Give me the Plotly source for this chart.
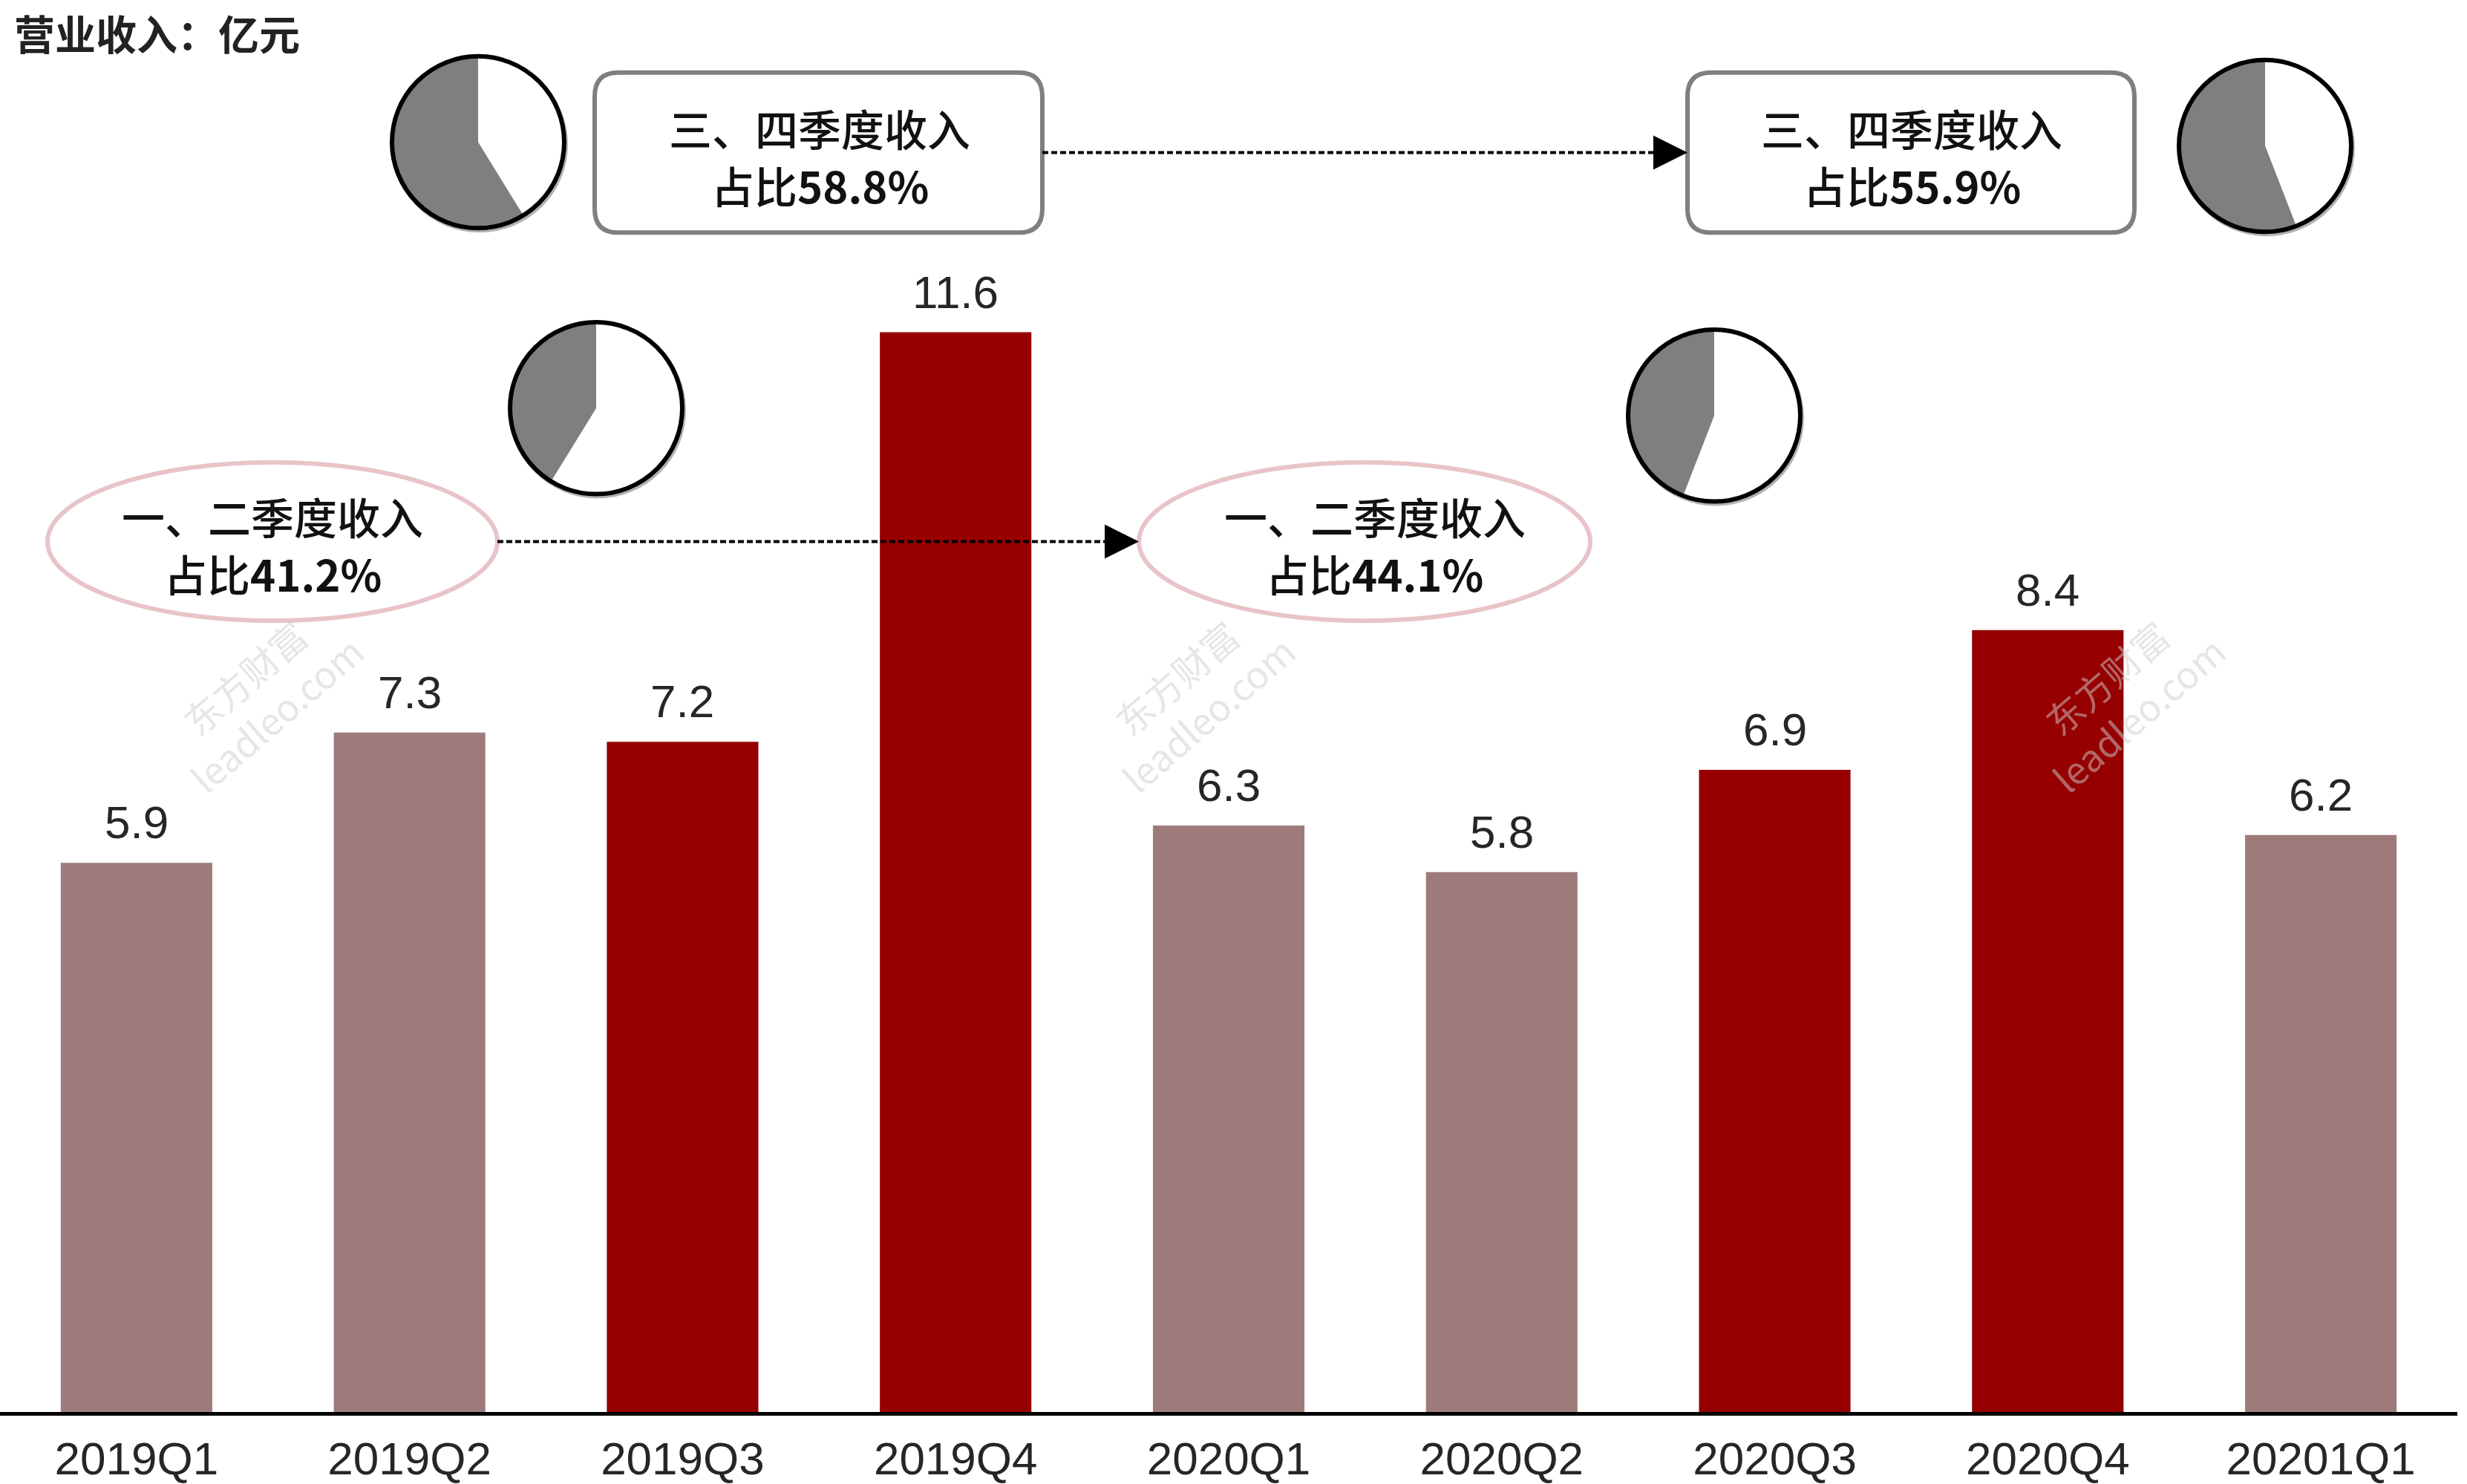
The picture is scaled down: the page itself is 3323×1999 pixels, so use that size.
import plotly.graph_objects as go

# ---------------- data ----------------
quarters = ["2019Q1", "2019Q2", "2019Q3", "2019Q4", "2020Q1", "2020Q2", "2020Q3", "2020Q4", "20201Q1"]
revenue = [5.9, 7.3, 7.2, 11.6, 6.3, 5.8, 6.9, 8.4, 6.2]
h1_share = [41.2, 44.1]   # 一、二季度收入占比 (2019, 2020)
h2_share = [58.8, 55.9]   # 三、四季度收入占比 (2019, 2020)
title_text = "营业收入：亿元"

# ---------------- style ----------------
C_LIGHT = "#9E7B7B"
C_DARK = "#960000"
C_GRAY = "#7F7F7F"
C_PINK = "#E8C4C8"
NUM_FONT = "Liberation Sans, Arial, sans-serif"
CJK_FONT = "Noto Sans CJK SC, sans-serif"

W, H = 3323, 1999
ML, MR, MT, MB = 0, 13, 0, 93
PW, PH = W - ML - MR, H - MT - MB


def fx(px):
    return (px - ML) / PW


def fy(py):
    return (MT + PH - py) / PH


bar_colors = [C_DARK if q.endswith(("Q3", "Q4")) else C_LIGHT for q in quarters]

fig = go.Figure()
fig.add_trace(go.Bar(
    x=quarters, y=revenue, marker=dict(color=bar_colors, line=dict(width=0)),
    hoverinfo="skip", showlegend=False,
))

annotations = []
for q, v in zip(quarters, revenue):
    annotations.append(dict(
        x=q, y=v, xref="x", yref="y", text=f"{v:.1f}", showarrow=False,
        xanchor="center", yanchor="bottom", yshift=18,
        font=dict(family=NUM_FONT, size=62, color="#262626"),
    ))

shapes = []

# ---------------- pies ----------------
R0 = 116
pie_specs = [
    (644, 192, [h1_share[0], h2_share[0]]),
    (803, 551, [h2_share[0], h1_share[0]]),
    (3051, 197, [h1_share[1], h2_share[1]]),
    (2309, 561, [h2_share[1], h1_share[1]]),
]
for cx, cy, vals in pie_specs:
    # soft shadow
    shapes.append(dict(type="circle", xref="paper", yref="paper", layer="below",
                       x0=fx(cx - R0 - 1), x1=fx(cx + R0 + 5), y0=fy(cy + R0 + 6), y1=fy(cy - R0),
                       fillcolor="rgba(0,0,0,0.30)", line=dict(width=0)))
    fig.add_trace(go.Pie(
        values=vals, sort=False, direction="clockwise", rotation=0,
        marker=dict(colors=["white", C_GRAY], line=dict(width=0)),
        textinfo="none", hoverinfo="skip", showlegend=False,
        domain=dict(x=[fx(cx - R0), fx(cx + R0)], y=[fy(cy + R0), fy(cy - R0)]),
    ))
    shapes.append(dict(type="circle", xref="paper", yref="paper", layer="above",
                       x0=fx(cx - R0), x1=fx(cx + R0), y0=fy(cy + R0), y1=fy(cy - R0),
                       line=dict(color="black", width=6), fillcolor="rgba(0,0,0,0)"))


# ---------------- boxes (rounded) ----------------
def rrect(x0, y0, x1, y1, r):
    pts = [
        f"M{fx(x0 + r)},{fy(y0)}",
        f"L{fx(x1 - r)},{fy(y0)}",
        f"Q{fx(x1)},{fy(y0)} {fx(x1)},{fy(y0 + r)}",
        f"L{fx(x1)},{fy(y1 - r)}",
        f"Q{fx(x1)},{fy(y1)} {fx(x1 - r)},{fy(y1)}",
        f"L{fx(x0 + r)},{fy(y1)}",
        f"Q{fx(x0)},{fy(y1)} {fx(x0)},{fy(y1 - r)}",
        f"L{fx(x0)},{fy(y0 + r)}",
        f"Q{fx(x0)},{fy(y0)} {fx(x0 + r)},{fy(y0)}",
        "Z",
    ]
    return " ".join(pts)


boxes = [(801, 98, 1404, 314), (2273, 98, 2875, 314)]
for x0, y0, x1, y1 in boxes:
    shapes.append(dict(type="path", xref="paper", yref="paper", layer="above",
                       path=rrect(x0, y0, x1, y1, 32),
                       line=dict(color=C_GRAY, width=6), fillcolor="white"))

ellipses = [(64, 624, 670, 838), (1534, 624, 2142, 838)]
for x0, y0, x1, y1 in ellipses:
    shapes.append(dict(type="circle", xref="paper", yref="paper", layer="above",
                       x0=fx(x0), x1=fx(x1), y0=fy(y1), y1=fy(y0),
                       line=dict(color=C_PINK, width=6), fillcolor="white"))


# ---------------- dashed arrows ----------------
def arrow(xs, xe, y):
    shapes.append(dict(type="line", xref="paper", yref="paper", layer="above",
                       x0=fx(xs), x1=fx(xe - 40), y0=fy(y), y1=fy(y),
                       line=dict(color="black", width=4, dash="8px,4px")))
    shapes.append(dict(type="path", xref="paper", yref="paper", layer="above",
                       path=f"M{fx(xe - 46)},{fy(y - 23)} L{fx(xe)},{fy(y)} L{fx(xe - 46)},{fy(y + 23)} Z",
                       fillcolor="black", line=dict(width=0)))


arrow(1404, 2273, 206)
arrow(670, 1534, 731)

# ---------------- box / ellipse texts ----------------
def two_lines(cx, y1, y2, head, pct):
    annotations.append(dict(x=fx(cx), y=fy(y1), xref="paper", yref="paper", showarrow=False,
                            text=head, xanchor="center", yanchor="middle",
                            font=dict(family=CJK_FONT, size=58, color="#111111", weight=500)))
    annotations.append(dict(x=fx(cx), y=fy(y2), xref="paper", yref="paper", showarrow=False,
                            text=f"占比<b>{pct:.1f}%</b>", xanchor="center", yanchor="middle",
                            font=dict(family=CJK_FONT, size=58, color="#111111", weight=500)))


two_lines(1104, 172, 250, "三、四季度收入", h2_share[0])
two_lines(2575, 172, 250, "三、四季度收入", h2_share[1])
two_lines(367, 696, 774, "一、二季度收入", h1_share[0])
two_lines(1852, 696, 774, "一、二季度收入", h1_share[1])

# ---------------- watermarks ----------------
for cx in (350, 1605, 2858):
    annotations.append(dict(x=fx(cx), y=fy(938), xref="paper", yref="paper", showarrow=False,
                            text="东方财富<br>leadleo.com", textangle=-41,
                            xanchor="center", yanchor="middle",
                            font=dict(family=CJK_FONT, size=50, color="rgba(205,205,205,0.5)")))

# ---------------- title ----------------
annotations.append(dict(x=fx(17), y=fy(43), xref="paper", yref="paper", showarrow=False,
                        text=f"<b>{title_text}</b>", xanchor="left", yanchor="middle",
                        font=dict(family=CJK_FONT, size=55, color="#222222")))

fig.update_layout(
    width=W, height=H,
    margin=dict(l=ML, r=MR, t=MT, b=MB),
    paper_bgcolor="white", plot_bgcolor="white",
    bargap=0.445,
    xaxis=dict(showgrid=False, zeroline=False, showline=True, linecolor="black", linewidth=5,
               ticks="", tickfont=dict(family=NUM_FONT, size=62, color="#262626"),
               ticklabelstandoff=5, range=[-0.5, len(quarters) - 0.5], fixedrange=True),
    yaxis=dict(visible=False, range=[0, 15.17], fixedrange=True),
    annotations=annotations,
    shapes=shapes,
)

fig.write_html("out.html")
